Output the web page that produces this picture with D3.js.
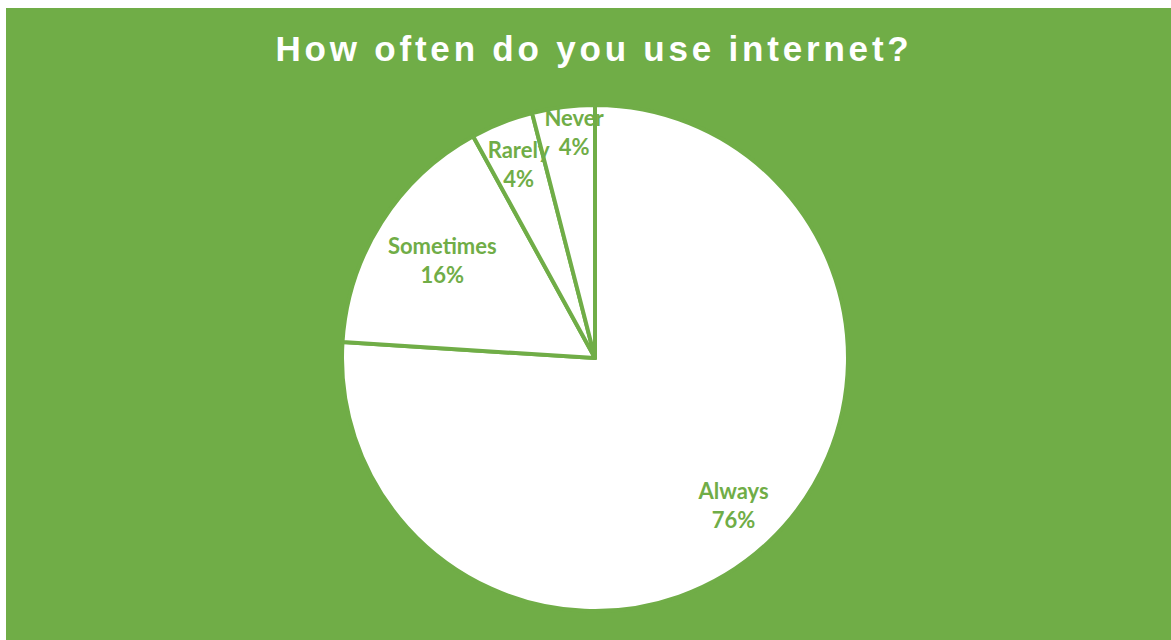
<!DOCTYPE html>
<html>
<head>
<meta charset="utf-8">
<script src="https://cdn.jsdelivr.net/npm/d3@7"></script>
<style>
  html, body { margin: 0; padding: 0; background: #ffffff; }
  svg { display: block; }
</style>
</head>
<body>
<svg id="chart" width="1171" height="640"></svg>
<script>
// Survey answers
const categories = ["Always", "Sometimes", "Rarely", "Never"];
const shares = [76, 16, 4, 4];
const title = "How often do you use internet?";

// Layout
const W = 1171, H = 640;
const green = "#70ad47";
const panel = { x: 6, y: 8 };
const center = { x: 595, y: 358 };
const radius = 253;
// label placement: distance from the centre (fraction of radius) and a small angular nudge (degrees)
const labelRadius = [0.80, 0.715, 0.82, 0.893];
const labelNudge = [0, 0, 0, 1.9];

const svg = d3.select("#chart");

svg.append("rect")
  .attr("x", panel.x).attr("y", panel.y)
  .attr("width", W - panel.x).attr("height", H - panel.y)
  .attr("fill", green);

svg.append("text")
  .attr("x", 594).attr("y", 61)
  .attr("text-anchor", "middle")
  .attr("font-family", "Liberation Sans, Arial, sans-serif")
  .attr("font-weight", "bold")
  .attr("font-size", 35)
  .attr("letter-spacing", "3.8px")
  .attr("fill", "#ffffff")
  .text(title);

const data = categories.map((c, i) => ({ name: c, value: shares[i] }));

const pie = d3.pie().sort(null).value(d => d.value);
const arcs = pie(data);
const arc = d3.arc().innerRadius(0).outerRadius(radius);

const g = svg.append("g").attr("transform", `translate(${center.x},${center.y})`);

g.selectAll("path.slice")
  .data(arcs)
  .join("path")
  .attr("class", "slice")
  .attr("d", arc)
  .attr("fill", "#ffffff")
  .attr("stroke", green)
  .attr("stroke-width", 4)
  .attr("stroke-linejoin", "round");

const labels = g.selectAll("text.lbl")
  .data(arcs)
  .join("text")
  .attr("class", "lbl")
  .attr("transform", (d, i) => {
    const r = radius * labelRadius[i];
    const a = (d.startAngle + d.endAngle) / 2 + labelNudge[i] * Math.PI / 180;
    return `translate(${r * Math.sin(a)},${-r * Math.cos(a)})`;
  })
  .attr("text-anchor", "middle")
  .attr("font-family", "Lato, 'Open Sans', sans-serif")
  .attr("font-weight", "bold")
  .attr("font-size", 22)
  .attr("fill", green);

labels.append("tspan")
  .attr("x", 0).attr("y", -7)
  .text(d => d.data.name);
labels.append("tspan")
  .attr("x", 0).attr("y", 22)
  .text(d => d3.format(".0%")(d.data.value / 100));
</script>
</body>
</html>
